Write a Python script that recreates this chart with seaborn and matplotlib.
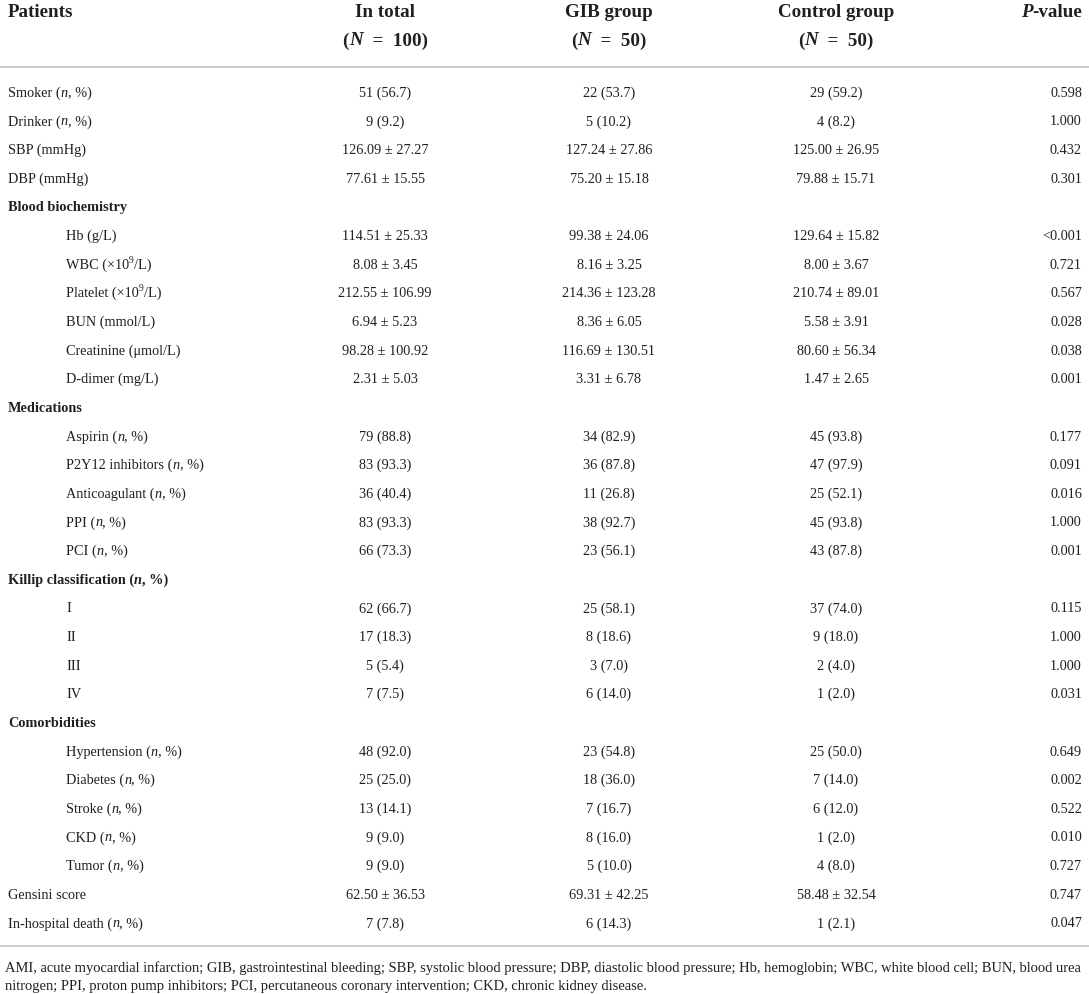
import re
import matplotlib
matplotlib.use("Agg")
import matplotlib.pyplot as plt
import seaborn as sns

sns.set_theme(style="white")
plt.rcParams["font.family"] = ["Liberation Serif", "DejaVu Serif"]

# ---------------- data ----------------
col_headers = ["In total", "GIB group", "Control group"]
col_ns = ["100", "50", "50"]

labels = [
    "Smoker (*n*, %)", "Drinker (*n*, %)", "SBP (mmHg)", "DBP (mmHg)",
    "Blood biochemistry",
    "Hb (g/L)", "WBC (×10^9^/L)", "Platelet (×10^9^/L)", "BUN (mmol/L)",
    "Creatinine (μmol/L)", "D-dimer (mg/L)",
    "Medications",
    "Aspirin (*n*, %)", "P2Y12 inhibitors (*n*, %)", "Anticoagulant (*n*, %)",
    "PPI (*n*, %)", "PCI (*n*, %)",
    "Killip classification (*n*, %)",
    "I", "II", "III", "IV",
    "Comorbidities",
    "Hypertension (*n*, %)", "Diabetes (*n*, %)", "Stroke (*n*, %)",
    "CKD (*n*, %)", "Tumor (*n*, %)",
    "Gensini score", "In-hospital death (*n*, %)",
]
kinds = [
    "row", "row", "row", "row",
    "section",
    "sub", "sub", "sub", "sub", "sub", "sub",
    "section",
    "sub", "sub", "sub", "sub", "sub",
    "section",
    "sub", "sub", "sub", "sub",
    "section",
    "sub", "sub", "sub", "sub", "sub",
    "row", "row",
]
in_total = [
    "51 (56.7)", "9 (9.2)", "126.09 ± 27.27", "77.61 ± 15.55",
    "",
    "114.51 ± 25.33", "8.08 ± 3.45", "212.55 ± 106.99", "6.94 ± 5.23",
    "98.28 ± 100.92", "2.31 ± 5.03",
    "",
    "79 (88.8)", "83 (93.3)", "36 (40.4)", "83 (93.3)", "66 (73.3)",
    "",
    "62 (66.7)", "17 (18.3)", "5 (5.4)", "7 (7.5)",
    "",
    "48 (92.0)", "25 (25.0)", "13 (14.1)", "9 (9.0)", "9 (9.0)",
    "62.50 ± 36.53", "7 (7.8)",
]
gib_group = [
    "22 (53.7)", "5 (10.2)", "127.24 ± 27.86", "75.20 ± 15.18",
    "",
    "99.38 ± 24.06", "8.16 ± 3.25", "214.36 ± 123.28", "8.36 ± 6.05",
    "116.69 ± 130.51", "3.31 ± 6.78",
    "",
    "34 (82.9)", "36 (87.8)", "11 (26.8)", "38 (92.7)", "23 (56.1)",
    "",
    "25 (58.1)", "8 (18.6)", "3 (7.0)", "6 (14.0)",
    "",
    "23 (54.8)", "18 (36.0)", "7 (16.7)", "8 (16.0)", "5 (10.0)",
    "69.31 ± 42.25", "6 (14.3)",
]
control_group = [
    "29 (59.2)", "4 (8.2)", "125.00 ± 26.95", "79.88 ± 15.71",
    "",
    "129.64 ± 15.82", "8.00 ± 3.67", "210.74 ± 89.01", "5.58 ± 3.91",
    "80.60 ± 56.34", "1.47 ± 2.65",
    "",
    "45 (93.8)", "47 (97.9)", "25 (52.1)", "45 (93.8)", "43 (87.8)",
    "",
    "37 (74.0)", "9 (18.0)", "2 (4.0)", "1 (2.0)",
    "",
    "25 (50.0)", "7 (14.0)", "6 (12.0)", "1 (2.0)", "4 (8.0)",
    "58.48 ± 32.54", "1 (2.1)",
]
p_values = [
    "0.598", "1.000", "0.432", "0.301",
    "",
    "<0.001", "0.721", "0.567", "0.028", "0.038", "0.001",
    "",
    "0.177", "0.091", "0.016", "1.000", "0.001",
    "",
    "0.115", "1.000", "1.000", "0.031",
    "",
    "0.649", "0.002", "0.522", "0.010", "0.727",
    "0.747", "0.047",
]
footnote = [
    "AMI, acute myocardial infarction; GIB, gastrointestinal bleeding; SBP, systolic blood pressure; "
    "DBP, diastolic blood pressure; Hb, hemoglobin; WBC, white blood cell; BUN, blood urea",
    "nitrogen; PPI, proton pump inhibitors; PCI, percutaneous coronary intervention; CKD, chronic kidney disease.",
]

# ---------------- drawing ----------------
W, H = 1089, 994
TXT = "#231f20"
fig = plt.figure(figsize=(W / 100, H / 100), dpi=100)
ax = fig.add_axes([0, 0, 1, 1])
ax.set_xlim(0, W)
ax.set_ylim(H, 0)
ax.axis("off")
renderer = fig.canvas.get_renderer()

PT = 72 / 100  # px -> pt


def parse(s):
    segs = []
    for tok in re.split(r"(\*[^*]+\*|\^[^^]+\^)", s):
        if not tok:
            continue
        if tok.startswith("*"):
            segs.append((tok[1:-1], "italic", False))
        elif tok.startswith("^"):
            segs.append((tok[1:-1], "normal", True))
        else:
            segs.append((tok, "normal", False))
    return segs


def text_width(s, size_px, weight, style):
    kw = dict(fontsize=size_px * PT, fontweight=weight, fontstyle=style)
    t1 = ax.text(0, 0, "|" + s + "|", **kw)
    w1 = t1.get_window_extent(renderer).width
    t1.remove()
    t2 = ax.text(0, 0, "||", **kw)
    w2 = t2.get_window_extent(renderer).width
    t2.remove()
    return w1 - w2


def draw(x, yc, s, size_px, weight="normal", ha="left"):
    segs = parse(s)
    items = []
    for txt, style, sup in segs:
        sz = size_px * (0.68 if sup else 1.0)
        items.append((txt, style, sup, sz, text_width(txt, sz, weight, style)))
    total = sum(it[4] for it in items)
    if ha == "center":
        x0 = x - total / 2
    elif ha == "right":
        x0 = x - total
    else:
        x0 = x
    base = yc + 0.34 * size_px
    for txt, style, sup, sz, w in items:
        yy = base - (0.42 * size_px if sup else 0)
        ax.text(x0, yy, txt, fontsize=sz * PT, fontweight=weight, fontstyle=style,
                color=TXT, ha="left", va="baseline")
        x0 += w


HEAD = 19
BODY = 14.2
col_x = [385, 609, 836]
p_right = 1082
x_label = 8
x_sub = 66

# header
draw(x_label, 11, "Patients", HEAD, "bold")
for cx, name, n in zip(col_x, col_headers, col_ns):
    draw(cx, 11, name, HEAD, "bold", "center")
    draw(cx, 39, "(*N*  =  " + n + ")", HEAD, "bold", "center")
draw(p_right, 11, "*P*-value", HEAD, "bold", "right")

ax.hlines([67, 946], 0, W, color="#c9c9c9", lw=1.3)

y0, dy = 92, 28.64
for i, lab in enumerate(labels):
    y = y0 + i * dy
    kind = kinds[i]
    if kind == "section":
        draw(x_label, y, lab, BODY, "bold")
        continue
    draw(x_sub if kind == "sub" else x_label, y, lab, BODY)
    for cx, col in zip(col_x, [in_total, gib_group, control_group]):
        draw(cx, y, col[i], BODY, ha="center")
    draw(p_right, y, p_values[i], BODY, ha="right")

# footnote, sized to span the width
fs = 13.5
w = text_width(footnote[0], fs, "normal", "normal")
fs = fs * 1078 / w
for k, line in enumerate(footnote):
    draw(5, 967 + k * 18.5, line, fs)

fig.savefig("out.png", dpi=100)
